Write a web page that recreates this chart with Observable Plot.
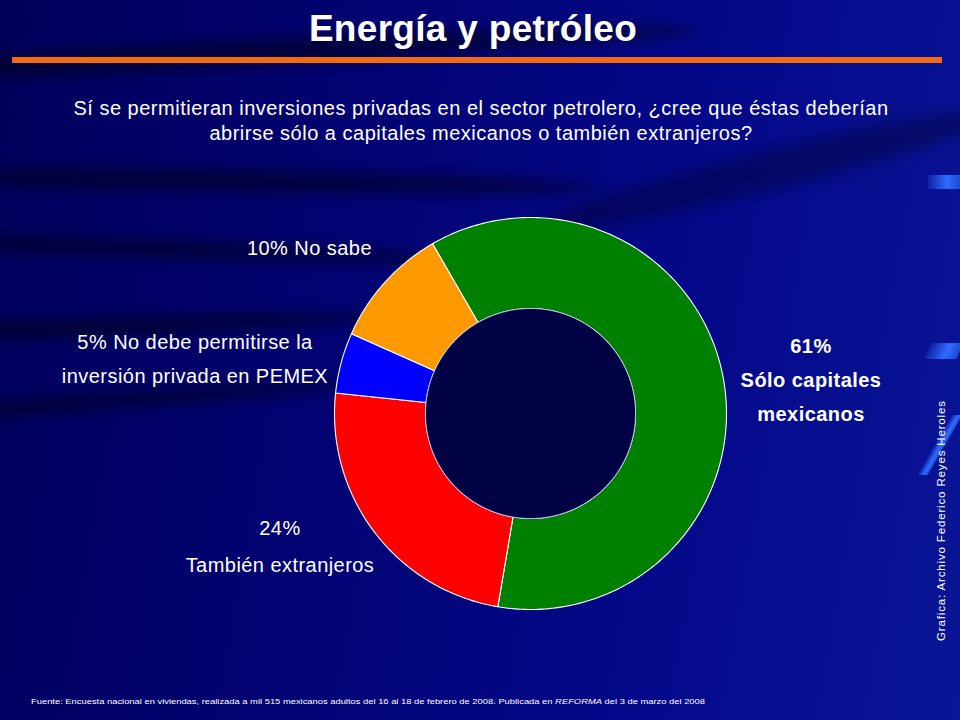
<!DOCTYPE html>
<html><head><meta charset="utf-8">
<script src="https://cdn.jsdelivr.net/npm/d3@7"></script>
<script src="https://cdn.jsdelivr.net/npm/@observablehq/plot@0.6"></script>
<style>
html,body{margin:0;padding:0;}
body{width:960px;height:720px;overflow:hidden;position:relative;font-family:"Liberation Sans",Arial,sans-serif;color:#fff;
 background:linear-gradient(100deg,#00005a 0%,#020272 35%,#04098a 70%,#0a1696 100%);}
.streak{position:absolute;border-radius:50%;background:rgba(0,0,20,0.55);filter:blur(7px);}
.abs{position:absolute;white-space:nowrap;}
#chart{position:absolute;left:0;top:0;}
.deco{position:absolute;background:linear-gradient(90deg,rgba(40,90,255,0.2),#2f6cff 60%,#1a4ad0);}
.lbl{font-size:20px;letter-spacing:0.45px;}
</style></head>
<body>
<div class="streak" style="left:-200px;top:40px;width:900px;height:26px;transform:rotate(-3deg)"></div>
<div class="streak" style="left:-100px;top:170px;width:700px;height:22px;transform:rotate(1deg)"></div>
<div class="streak" style="left:-150px;top:240px;width:620px;height:18px;transform:rotate(2deg)"></div>
<div class="streak" style="left:-250px;top:318px;width:640px;height:20px;transform:rotate(-2deg)"></div>
<div class="streak" style="left:-200px;top:395px;width:560px;height:16px;transform:rotate(-4deg)"></div>
<div class="streak" style="left:520px;top:150px;width:500px;height:40px;transform:rotate(-14deg);background:rgba(0,0,30,0.35)"></div>
<div class="deco" style="left:928px;top:175px;width:32px;height:14px"></div>
<div class="deco" style="left:928px;top:343px;width:32px;height:16px;transform:skewX(-25deg)"></div>
<div class="deco" style="left:935px;top:415px;width:10px;height:60px;transform:skewX(-30deg)"></div>

<div class="abs" style="left:0;width:946px;top:8px;text-align:center;font-size:37px;font-weight:bold;letter-spacing:0.3px;">Energía y petróleo</div>
<div class="abs" style="left:12px;top:57px;width:930px;height:6px;background:#f36a12"></div>
<div class="abs lbl" style="left:0;width:962px;top:96px;text-align:center;line-height:25px;letter-spacing:0.5px;">Sí se permitieran inversiones privadas en el sector petrolero, ¿cree que éstas deberían<br>abrirse sólo a capitales mexicanos o también extranjeros?</div>

<div id="chart"></div>

<div class="abs lbl" style="left:120px;width:252px;top:237px;text-align:right;">10% No sabe</div>
<div class="abs lbl" style="left:30px;width:330px;top:325px;text-align:center;line-height:34px;">5% No debe permitirse la<br>inversión privada en PEMEX</div>
<div class="abs lbl" style="left:140px;width:280px;top:510px;text-align:center;line-height:37px;">24%<br>También extranjeros</div>
<div class="abs lbl" style="left:700px;width:222px;top:329px;text-align:center;font-weight:bold;line-height:34px;">61%<br><span style="line-height:29px">Sólo capitales<br>mexicanos</span></div>

<div class="abs" style="left:935px;top:641px;transform-origin:0 0;transform:rotate(-90deg);font-size:11.5px;letter-spacing:0.85px;">Grafica: Archivo Federico Reyes Heroles</div>

<svg class="abs" style="left:0;top:690px" width="960" height="20"><text x="31" y="14" font-size="8" fill="#fff" textLength="674" lengthAdjust="spacingAndGlyphs" font-family="Liberation Sans, Arial">Fuente: Encuesta nacional en viviendas, realizada a mil 515 mexicanos adultos del 16 al 18 de febrero de 2008. Publicada en <tspan font-style="italic">REFORMA</tspan> del 3 de marzo del 2008</text></svg>

<script>
// ---- data ----
const categories = ["Sólo capitales mexicanos", "También extranjeros", "No debe permitirse la inversión privada en PEMEX", "No sabe"];
const values = [61, 24, 5, 10];
const colors = ["#008000", "#ff0000", "#0000ff", "#ff9900"];

// ---- geometry (donut in a unit system, outer radius 1) ----
const startDeg = -30;
const innerR = 105 / 196;
const total = d3.sum(values);
function pt(r, deg) { const a = deg * Math.PI / 180; return [r * Math.sin(a), -r * Math.cos(a)]; }
let acc = startDeg;
const slices = categories.map((c, i) => {
  const a0 = acc, a1 = acc + values[i] / total * 360; acc = a1;
  const n = Math.max(2, Math.ceil(a1 - a0));
  const outer = d3.range(n + 1).map(k => pt(1, a0 + (a1 - a0) * k / n));
  const inner = d3.range(n + 1).map(k => pt(innerR, a1 - (a1 - a0) * k / n));
  const ring = [...outer, ...inner, outer[0]];
  return {type: "Feature", properties: {name: c, value: values[i], color: colors[i]}, geometry: {type: "Polygon", coordinates: [ring]}};
});
const holeRing = d3.range(361).map(k => pt(innerR, k));
const hole = {type: "Feature", properties: {}, geometry: {type: "Polygon", coordinates: [holeRing]}};

// frame placement: donut centre at (530,413), radius 196 px in a 960x720 frame
const cx = 530, cy = 413, R = 196, W = 960, H = 720;
const domain = {type: "MultiPoint", coordinates: [[-cx / R, -cy / R], [(W - cx) / R, (H - cy) / R]]};

const plot = Plot.plot({
  width: W, height: H, margin: 0,
  style: {background: "transparent", overflow: "visible"},
  projection: {type: "identity", domain, inset: 0},
  marks: [
    Plot.geo(slices, {fill: d => d.properties.color, stroke: "#ffffff", strokeWidth: 1.1, title: d => `${d.properties.value}% ${d.properties.name}`}),
    Plot.geo([hole], {fill: "#000044", stroke: "#c8c8ff", strokeWidth: 0.8})
  ]
});
document.getElementById("chart").appendChild(plot);
</script>
</body></html>
